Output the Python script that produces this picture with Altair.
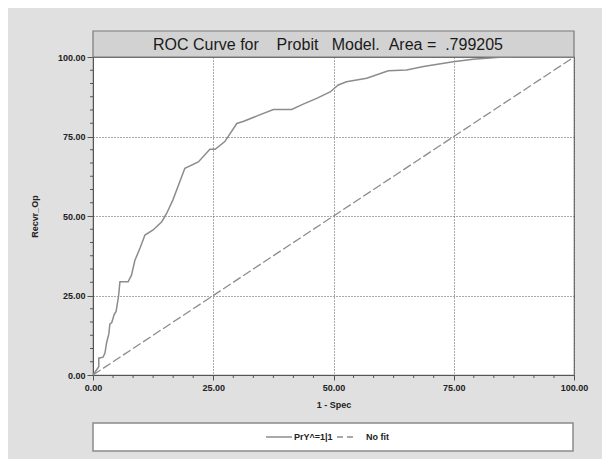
import altair as alt
import pandas as pd

# ROC curve points (1 - Specificity, Sensitivity), in percent
fpr = [0, 1.2, 1.2, 2.1, 2.5, 2.8, 3.3, 3.5, 3.9, 4.4, 4.8, 5.3, 5.6, 7.3, 8.0, 8.7, 9.8,
       10.8, 12.5, 14.3, 15.3, 16.6, 19.1, 21.9, 24.3, 25.4, 27.4, 29.9, 31.2, 34.0, 37.5,
       41.3, 43.7, 46.5, 49.3, 51.0, 52.7, 56.9, 61.4, 65.2, 68.7, 74.9, 79.0, 84.6, 90.0, 100.0]
tpr = [0, 2.6, 5.3, 5.6, 7.0, 10.0, 13.0, 16.0, 16.5, 19.0, 20.0, 24.6, 29.3, 29.3, 31.4, 36.0,
       40.0, 44.0, 45.6, 48.2, 50.8, 55.0, 65.0, 67.0, 71.0, 71.0, 73.4, 79.1, 79.7, 81.4, 83.5,
       83.5, 85.2, 87.0, 89.0, 91.2, 92.2, 93.3, 95.7, 95.9, 97.0, 98.5, 99.3, 99.9, 100.0, 100.0]
diag_x = [0, 100]
diag_y = [0, 100]
major_ticks = [0, 25, 50, 75, 100]
minor_ticks = [i * 25 / 6 for i in range(25) if i % 6 != 0]
title_text = "ROC Curve for\u00a0\u00a0\u00a0\u00a0Probit\u00a0\u00a0\u00a0Model.\u00a0\u00a0Area =\u00a0\u00a0.799205"
legend_labels = ["PrY^=1|1", "No fit"]
x_title = "1 - Spec"
y_title = "Recvr_Op"

W, H = 481, 318
FONT = "Liberation Sans"
GRAY = "#8c8c8c"

roc = pd.DataFrame({"x": fpr, "y": tpr, "i": range(len(fpr))})
diag = pd.DataFrame({"x": diag_x, "y": diag_y})
minor = pd.DataFrame({"v": minor_ticks})
one = pd.DataFrame({"t": [title_text]})

xs = alt.Scale(domain=[0, 100], nice=False, zero=False)
ys = alt.Scale(domain=[0, 100], nice=False, zero=False)

xaxis = alt.Axis(values=major_ticks, format=".2f", title=x_title, grid=True,
                 gridDash=[1, 2], gridColor="#555555", gridWidth=1,
                 labelFont=FONT, labelFontWeight="bold", labelFontSize=9, labelColor="#222",
                 tickSize=5, tickColor="#555", domainColor="#555", labelPadding=3,
                 titleFont=FONT, titleFontWeight="bold", titleFontSize=9, titleColor="#222",
                 titlePadding=8, labelFlush=False)
yaxis = alt.Axis(values=major_ticks, format=".2f", title=y_title, grid=True,
                 gridDash=[1, 2], gridColor="#555555", gridWidth=1,
                 labelFont=FONT, labelFontWeight="bold", labelFontSize=9, labelColor="#222",
                 tickSize=6, tickColor="#555", domainColor="#555", labelPadding=2,
                 titleFont=FONT, titleFontWeight="bold", titleFontSize=9, titleColor="#222",
                 titlePadding=18, labelFlush=False)

curve = alt.Chart(roc).mark_line(color=GRAY, strokeWidth=1.5).encode(
    x=alt.X("x:Q", scale=xs, axis=xaxis),
    y=alt.Y("y:Q", scale=ys, axis=yaxis),
    order="i:Q",
)
diag_line = alt.Chart(diag).mark_line(color=GRAY, strokeWidth=1.3, strokeDash=[9, 3]).encode(
    x=alt.X("x:Q", scale=xs), y=alt.Y("y:Q", scale=ys)
)
minor_x = alt.Chart(minor).mark_rule(color="#555").encode(
    x=alt.X("v:Q", scale=xs), y=alt.value(H), y2=alt.value(H + 3)
)
minor_y = alt.Chart(minor).mark_rule(color="#555").encode(
    y=alt.Y("v:Q", scale=ys), x=alt.value(-3), x2=alt.value(0)
)

title_box = alt.Chart(one).mark_rect(fill="#d2d2d2", stroke="#7a7a7a", strokeWidth=1.2).encode(
    x=alt.value(0), x2=alt.value(W), y=alt.value(-26), y2=alt.value(0)
)
title_mark = alt.Chart(one).mark_text(font=FONT, fontSize=16, color="#1a1a1a",
                                      align="center", baseline="middle").encode(
    x=alt.value(235), y=alt.value(-12), text="t:N"
)

LY = H + 62
legend_box = alt.Chart(one).mark_rect(fill="white", stroke="#8a8a8a", strokeWidth=1.5).encode(
    x=alt.value(0), x2=alt.value(W - 1), y=alt.value(H + 48), y2=alt.value(H + 76)
)
leg_solid = alt.Chart(one).mark_rule(color=GRAY, strokeWidth=1.5).encode(
    x=alt.value(173), x2=alt.value(199), y=alt.value(LY)
)
leg_dash = alt.Chart(one).mark_rule(color=GRAY, strokeWidth=1.5, strokeDash=[6, 4]).encode(
    x=alt.value(244), x2=alt.value(261), y=alt.value(LY)
)
leg_df = pd.DataFrame({"t": legend_labels, "px": [201, 273]})
leg_text = alt.Chart(leg_df).mark_text(font=FONT, fontSize=9, fontWeight="bold", color="#222",
                                       align="left", baseline="middle").encode(
    x=alt.X("px:Q", scale=None), y=alt.value(LY), text="t:N"
)

chart = alt.layer(
    diag_line, curve, minor_x, minor_y, title_box, title_mark,
    legend_box, leg_solid, leg_dash, leg_text
).properties(
    width=W, height=H,
    background="#e0e0e0",
    padding={"left": 85, "top": 49, "right": 28, "bottom": 84},
    autosize=alt.AutoSizeParams(type="none"),
).configure_view(stroke="#6e6e6e", strokeWidth=1.2, fill="white")

chart.save("out.html", embed_options={"renderer": "svg", "actions": False})
